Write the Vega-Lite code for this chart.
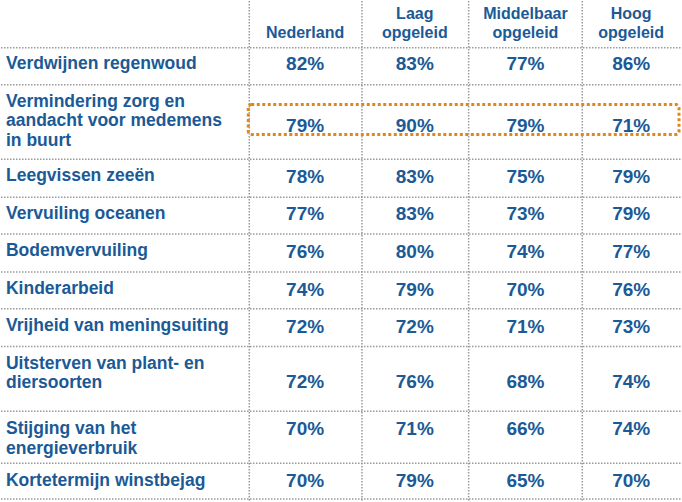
{
  "$schema": "https://vega.github.io/schema/vega-lite/v6.json",
  "width": 682,
  "height": 502,
  "autosize": {"type": "fit", "contains": "padding"},
  "padding": 0,
  "background": "white",
  "config": {"view": {"stroke": null}, "font": "Liberation Sans"},
  "datasets": {
    "hlines": [{"y": 47}, {"y": 84}, {"y": 159}, {"y": 197}, {"y": 234}, {"y": 272}, {"y": 309}, {"y": 347}, {"y": 412}, {"y": 464}, {"y": 500}],
    "vlines": [{"x": 249}, {"x": 362}, {"x": 469}, {"x": 583}],
    "cols": [
      {"col": "Nederland", "top": "", "bottom": "Nederland", "center": 305},
      {"col": "Laag", "top": "Laag", "bottom": "opgeleid", "center": 415},
      {"col": "Middelbaar", "top": "Middelbaar", "bottom": "opgeleid", "center": 526},
      {"col": "Hoog", "top": "Hoog", "bottom": "opgeleid", "center": 632}
    ],
    "rows": [
      {"item": "Verdwijnen regenwoud", "label": "Verdwijnen regenwoud", "labelY": 63, "valueY": 63},
      {"item": "Vermindering zorg", "label": "Vermindering zorg en|aandacht voor medemens|in buurt", "labelY": 101, "valueY": 126},
      {"item": "Leegvissen zeeën", "label": "Leegvissen zeeën", "labelY": 176, "valueY": 177},
      {"item": "Vervuiling oceanen", "label": "Vervuiling oceanen", "labelY": 214, "valueY": 214},
      {"item": "Bodemvervuiling", "label": "Bodemvervuiling", "labelY": 251, "valueY": 252},
      {"item": "Kinderarbeid", "label": "Kinderarbeid", "labelY": 289, "valueY": 290},
      {"item": "Vrijheid van meningsuiting", "label": "Vrijheid van meningsuiting", "labelY": 326, "valueY": 327},
      {"item": "Uitsterven", "label": "Uitsterven van plant- en|diersoorten", "labelY": 364, "valueY": 383},
      {"item": "Stijging", "label": "Stijging van het|energieverbruik", "labelY": 430, "valueY": 430},
      {"item": "Kortetermijn winstbejag", "label": "Kortetermijn winstbejag", "labelY": 482, "valueY": 482}
    ],
    "cells": [
      {"item": "Verdwijnen regenwoud", "col": "Nederland", "value": 0.82},
      {"item": "Verdwijnen regenwoud", "col": "Laag", "value": 0.83},
      {"item": "Verdwijnen regenwoud", "col": "Middelbaar", "value": 0.77},
      {"item": "Verdwijnen regenwoud", "col": "Hoog", "value": 0.86},
      {"item": "Vermindering zorg", "col": "Nederland", "value": 0.79},
      {"item": "Vermindering zorg", "col": "Laag", "value": 0.90},
      {"item": "Vermindering zorg", "col": "Middelbaar", "value": 0.79},
      {"item": "Vermindering zorg", "col": "Hoog", "value": 0.71},
      {"item": "Leegvissen zeeën", "col": "Nederland", "value": 0.78},
      {"item": "Leegvissen zeeën", "col": "Laag", "value": 0.83},
      {"item": "Leegvissen zeeën", "col": "Middelbaar", "value": 0.75},
      {"item": "Leegvissen zeeën", "col": "Hoog", "value": 0.79},
      {"item": "Vervuiling oceanen", "col": "Nederland", "value": 0.77},
      {"item": "Vervuiling oceanen", "col": "Laag", "value": 0.83},
      {"item": "Vervuiling oceanen", "col": "Middelbaar", "value": 0.73},
      {"item": "Vervuiling oceanen", "col": "Hoog", "value": 0.79},
      {"item": "Bodemvervuiling", "col": "Nederland", "value": 0.76},
      {"item": "Bodemvervuiling", "col": "Laag", "value": 0.80},
      {"item": "Bodemvervuiling", "col": "Middelbaar", "value": 0.74},
      {"item": "Bodemvervuiling", "col": "Hoog", "value": 0.77},
      {"item": "Kinderarbeid", "col": "Nederland", "value": 0.74},
      {"item": "Kinderarbeid", "col": "Laag", "value": 0.79},
      {"item": "Kinderarbeid", "col": "Middelbaar", "value": 0.70},
      {"item": "Kinderarbeid", "col": "Hoog", "value": 0.76},
      {"item": "Vrijheid van meningsuiting", "col": "Nederland", "value": 0.72},
      {"item": "Vrijheid van meningsuiting", "col": "Laag", "value": 0.72},
      {"item": "Vrijheid van meningsuiting", "col": "Middelbaar", "value": 0.71},
      {"item": "Vrijheid van meningsuiting", "col": "Hoog", "value": 0.73},
      {"item": "Uitsterven", "col": "Nederland", "value": 0.72},
      {"item": "Uitsterven", "col": "Laag", "value": 0.76},
      {"item": "Uitsterven", "col": "Middelbaar", "value": 0.68},
      {"item": "Uitsterven", "col": "Hoog", "value": 0.74},
      {"item": "Stijging", "col": "Nederland", "value": 0.70},
      {"item": "Stijging", "col": "Laag", "value": 0.71},
      {"item": "Stijging", "col": "Middelbaar", "value": 0.66},
      {"item": "Stijging", "col": "Hoog", "value": 0.74},
      {"item": "Kortetermijn winstbejag", "col": "Nederland", "value": 0.70},
      {"item": "Kortetermijn winstbejag", "col": "Laag", "value": 0.79},
      {"item": "Kortetermijn winstbejag", "col": "Middelbaar", "value": 0.65},
      {"item": "Kortetermijn winstbejag", "col": "Hoog", "value": 0.70}
    ],
    "highlight": [{"x1": 248, "x2": 680, "y1": 104, "y2": 134}]
  },
  "encoding": {},
  "layer": [
    {
      "data": {"name": "hlines"},
      "mark": {"type": "rule", "color": "#9a9a9a", "strokeWidth": 1.5, "strokeDash": [1.5, 1.5]},
      "encoding": {
        "x": {"datum": 0, "type": "quantitative", "scale": {"domain": [0, 682], "nice": false, "zero": false}, "axis": null},
        "x2": {"datum": 682},
        "y": {"field": "y", "type": "quantitative", "scale": {"domain": [0, 502], "reverse": true, "nice": false, "zero": false}, "axis": null}
      }
    },
    {
      "data": {"name": "vlines"},
      "mark": {"type": "rule", "color": "#9a9a9a", "strokeWidth": 1.5, "strokeDash": [1.5, 1.5]},
      "encoding": {
        "x": {"field": "x", "type": "quantitative", "axis": null},
        "y": {"datum": 0, "type": "quantitative", "axis": null},
        "y2": {"datum": 502}
      }
    },
    {
      "data": {"name": "highlight"},
      "mark": {"type": "rect", "fill": null, "fillOpacity": 0, "stroke": "#E0871A", "strokeWidth": 3, "strokeDash": [3, 2.5], "cornerRadius": 3},
      "encoding": {
        "x": {"field": "x1", "type": "quantitative", "axis": null},
        "x2": {"field": "x2"},
        "y": {"field": "y1", "type": "quantitative", "axis": null},
        "y2": {"field": "y2"}
      }
    },
    {
      "data": {"name": "rows"},
      "mark": {"type": "text", "align": "left", "baseline": "middle", "fontSize": 17.5, "fontWeight": "bold", "color": "#1B5A96", "lineBreak": "|", "lineHeight": 19.5},
      "encoding": {
        "x": {"datum": 5, "type": "quantitative", "axis": null},
        "y": {"field": "labelY", "type": "quantitative", "axis": null},
        "text": {"field": "label", "type": "nominal"}
      }
    },
    {
      "data": {"name": "cols"},
      "mark": {"type": "text", "align": "center", "baseline": "middle", "fontSize": 16, "fontWeight": "bold", "color": "#1B5A96"},
      "encoding": {
        "x": {"field": "center", "type": "quantitative", "axis": null},
        "y": {"datum": 13, "type": "quantitative", "axis": null},
        "text": {"field": "top", "type": "nominal"}
      }
    },
    {
      "data": {"name": "cols"},
      "mark": {"type": "text", "align": "center", "baseline": "middle", "fontSize": 16, "fontWeight": "bold", "color": "#1B5A96"},
      "encoding": {
        "x": {"field": "center", "type": "quantitative", "axis": null},
        "y": {"datum": 32, "type": "quantitative", "axis": null},
        "text": {"field": "bottom", "type": "nominal"}
      }
    },
    {
      "data": {"name": "cells"},
      "transform": [
        {"lookup": "item", "from": {"data": {"name": "rows"}, "key": "item", "fields": ["valueY"]}},
        {"lookup": "col", "from": {"data": {"name": "cols"}, "key": "col", "fields": ["center"]}}
      ],
      "mark": {"type": "text", "align": "center", "baseline": "middle", "fontSize": 19, "fontWeight": "bold", "color": "#1B5A96"},
      "encoding": {
        "x": {"field": "center", "type": "quantitative", "axis": null},
        "y": {"field": "valueY", "type": "quantitative", "axis": null},
        "text": {"field": "value", "type": "quantitative", "format": ".0%"}
      }
    }
  ]
}
